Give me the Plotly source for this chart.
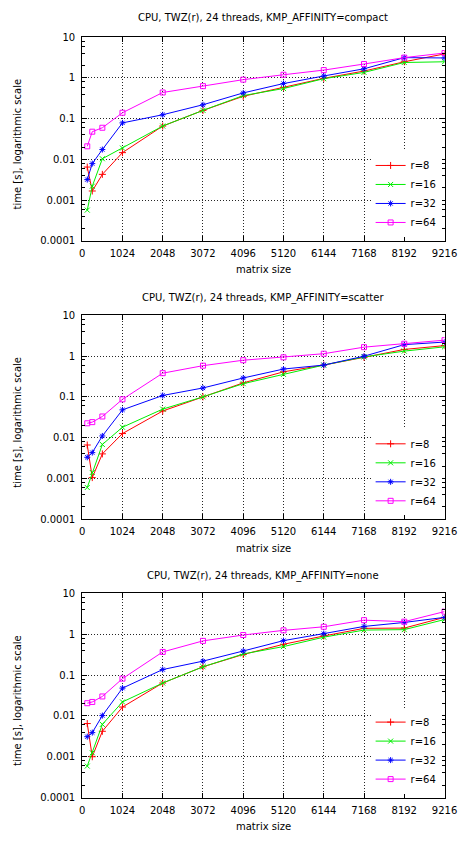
import plotly.graph_objects as go

sizes = [128, 256, 512, 1024, 2048, 3072, 4096, 5120, 6144, 7168, 8192, 9216]
series_names = ["r=8", "r=16", "r=32", "r=64"]
titles = ["CPU, TWZ(r), 24 threads, KMP_AFFINITY=compact",
          "CPU, TWZ(r), 24 threads, KMP_AFFINITY=scatter",
          "CPU, TWZ(r), 24 threads, KMP_AFFINITY=none"]

compact_r8 = [0.0065, 0.00168, 0.0043, 0.0147, 0.066, 0.16, 0.355, 0.59, 0.98, 1.48, 2.5, 3.9]
compact_r16 = [0.00057, 0.0022, 0.0104, 0.019, 0.066, 0.16, 0.37, 0.55, 0.96, 1.37, 2.4, 2.5]
compact_r32 = [0.0032, 0.0079, 0.0175, 0.079, 0.125, 0.22, 0.43, 0.73, 1.12, 1.68, 3.16, 3.1]
compact_r64 = [0.021, 0.048, 0.06, 0.14, 0.44, 0.63, 0.91, 1.2, 1.56, 2.2, 3.16, 4.1]

scatter_r8 = [0.0066, 0.00105, 0.0040, 0.0126, 0.045, 0.10, 0.22, 0.41, 0.60, 0.93, 1.45, 1.8]
scatter_r16 = [0.0006, 0.0014, 0.0068, 0.018, 0.05, 0.10, 0.21, 0.355, 0.60, 0.95, 1.32, 1.68]
scatter_r32 = [0.0033, 0.0043, 0.011, 0.048, 0.108, 0.165, 0.29, 0.48, 0.60, 0.99, 1.9, 2.2]
scatter_r64 = [0.0225, 0.024, 0.033, 0.087, 0.38, 0.58, 0.79, 0.93, 1.14, 1.65, 2.0, 2.45]

none_r8 = [0.0065, 0.0010, 0.0042, 0.0165, 0.064, 0.16, 0.32, 0.57, 0.91, 1.4, 1.42, 2.6]
none_r16 = [0.00059, 0.00125, 0.0062, 0.022, 0.064, 0.16, 0.33, 0.50, 0.85, 1.27, 1.3, 2.3]
none_r32 = [0.0031, 0.0039, 0.0102, 0.048, 0.137, 0.22, 0.39, 0.70, 1.04, 1.56, 1.95, 2.6]
none_r64 = [0.0205, 0.022, 0.030, 0.082, 0.37, 0.69, 0.96, 1.25, 1.53, 2.22, 2.04, 3.6]

panels = [
    [compact_r8, compact_r16, compact_r32, compact_r64],
    [scatter_r8, scatter_r16, scatter_r32, scatter_r64],
    [none_r8, none_r16, none_r32, none_r64],
]

x_ticks = [0, 1024, 2048, 3072, 4096, 5120, 6144, 7168, 8192, 9216]
y_ticks = [0.0001, 0.001, 0.01, 0.1, 1, 10]
y_ticktext = ["0.0001", "0.001", "0.01", "0.1", "1", "10"]
y_minor = [m * 10 ** e for e in range(-4, 1) for m in (2, 4, 6, 8)]

colors = ["#ff0000", "#00ee00", "#0000ff", "#ff00ff"]
symbols = ["cross-thin-open", "x-thin-open", "asterisk-open", "square-open"]

W, H = 472, 841
FONT = "DejaVu Sans"
x_left, x_right = 82, 457
panel_px = [(31.7, 238.3), (313.7, 520.7), (596, 803)]
title_px = [12.5, 296, 578]
xlabel_px = [267, 550.5, 832]


def py(p):
    return 1 - p / H


fig = go.Figure()
layout = dict(
    width=W, height=H,
    margin=dict(l=0, r=0, t=0, b=0),
    paper_bgcolor="white", plot_bgcolor="white",
    font=dict(family=FONT, size=10, color="black"),
    annotations=[],
)

for i, (vals, (top, bot)) in enumerate(zip(panels, panel_px)):
    k = "" if i == 0 else str(i + 1)
    leg = "legend" if i == 0 else "legend" + str(i + 1)
    for name, v, c, s in zip(series_names, vals, colors, symbols):
        fig.add_trace(go.Scatter(
            x=sizes, y=v, name=name, mode="lines+markers",
            line=dict(color=c, width=1),
            marker=dict(symbol=s, size=5, color=c, line=dict(color=c, width=1)),
            xaxis="x" + k, yaxis="y" + k, legend=leg,
        ))
    common = dict(
        showline=True, linecolor="black", linewidth=1, mirror="allticks",
        ticks="inside", ticklen=5, tickcolor="black", tickwidth=1,
        showgrid=True, gridcolor="rgba(0,0,0,0.85)", gridwidth=1, griddash="1px,2px",
        zeroline=False, tickfont=dict(family=FONT, size=10, color="black"),
    )
    layout["xaxis" + k] = dict(
        common, domain=[x_left / W, x_right / W], anchor="y" + k,
        range=[0, 9216], tickmode="array", tickvals=x_ticks,
        ticklabelstandoff=3,
    )
    layout["yaxis" + k] = dict(
        common, domain=[py(bot), py(top)], anchor="x" + k, type="log",
        range=[-4, 1], tickmode="array", tickvals=y_ticks, ticktext=y_ticktext,
        minor=dict(tickmode="array", tickvals=y_minor, ticks="inside", ticklen=3,
                   tickcolor="black", showgrid=False),
        ticklabelstandoff=4,
    )
    layout[leg] = dict(
        x=(x_right - 3) / W, xanchor="right", y=py(bot - 4), yanchor="bottom",
        bgcolor="white", borderwidth=0, font=dict(family=FONT, size=10),
        traceorder="normal", itemwidth=30, tracegroupgap=0,
    )
    cy = (top + bot) / 2
    layout["annotations"] += [
        dict(text=titles[i], x=(x_left + x_right) / 2 / W, y=py(title_px[i]),
             xref="paper", yref="paper", showarrow=False,
             xanchor="center", yanchor="middle", font=dict(family=FONT, size=10)),
        dict(text="matrix size", x=(x_left + x_right) / 2 / W, y=py(xlabel_px[i]),
             xref="paper", yref="paper", showarrow=False,
             xanchor="center", yanchor="middle", font=dict(family=FONT, size=10)),
        dict(text="time [s], logarithmic scale", x=15 / W, y=py(cy + 5),
             xref="paper", yref="paper", showarrow=False, textangle=-90,
             xanchor="center", yanchor="middle", font=dict(family=FONT, size=10)),
    ]

fig.update_layout(**layout)
fig.write_html("out.html")
